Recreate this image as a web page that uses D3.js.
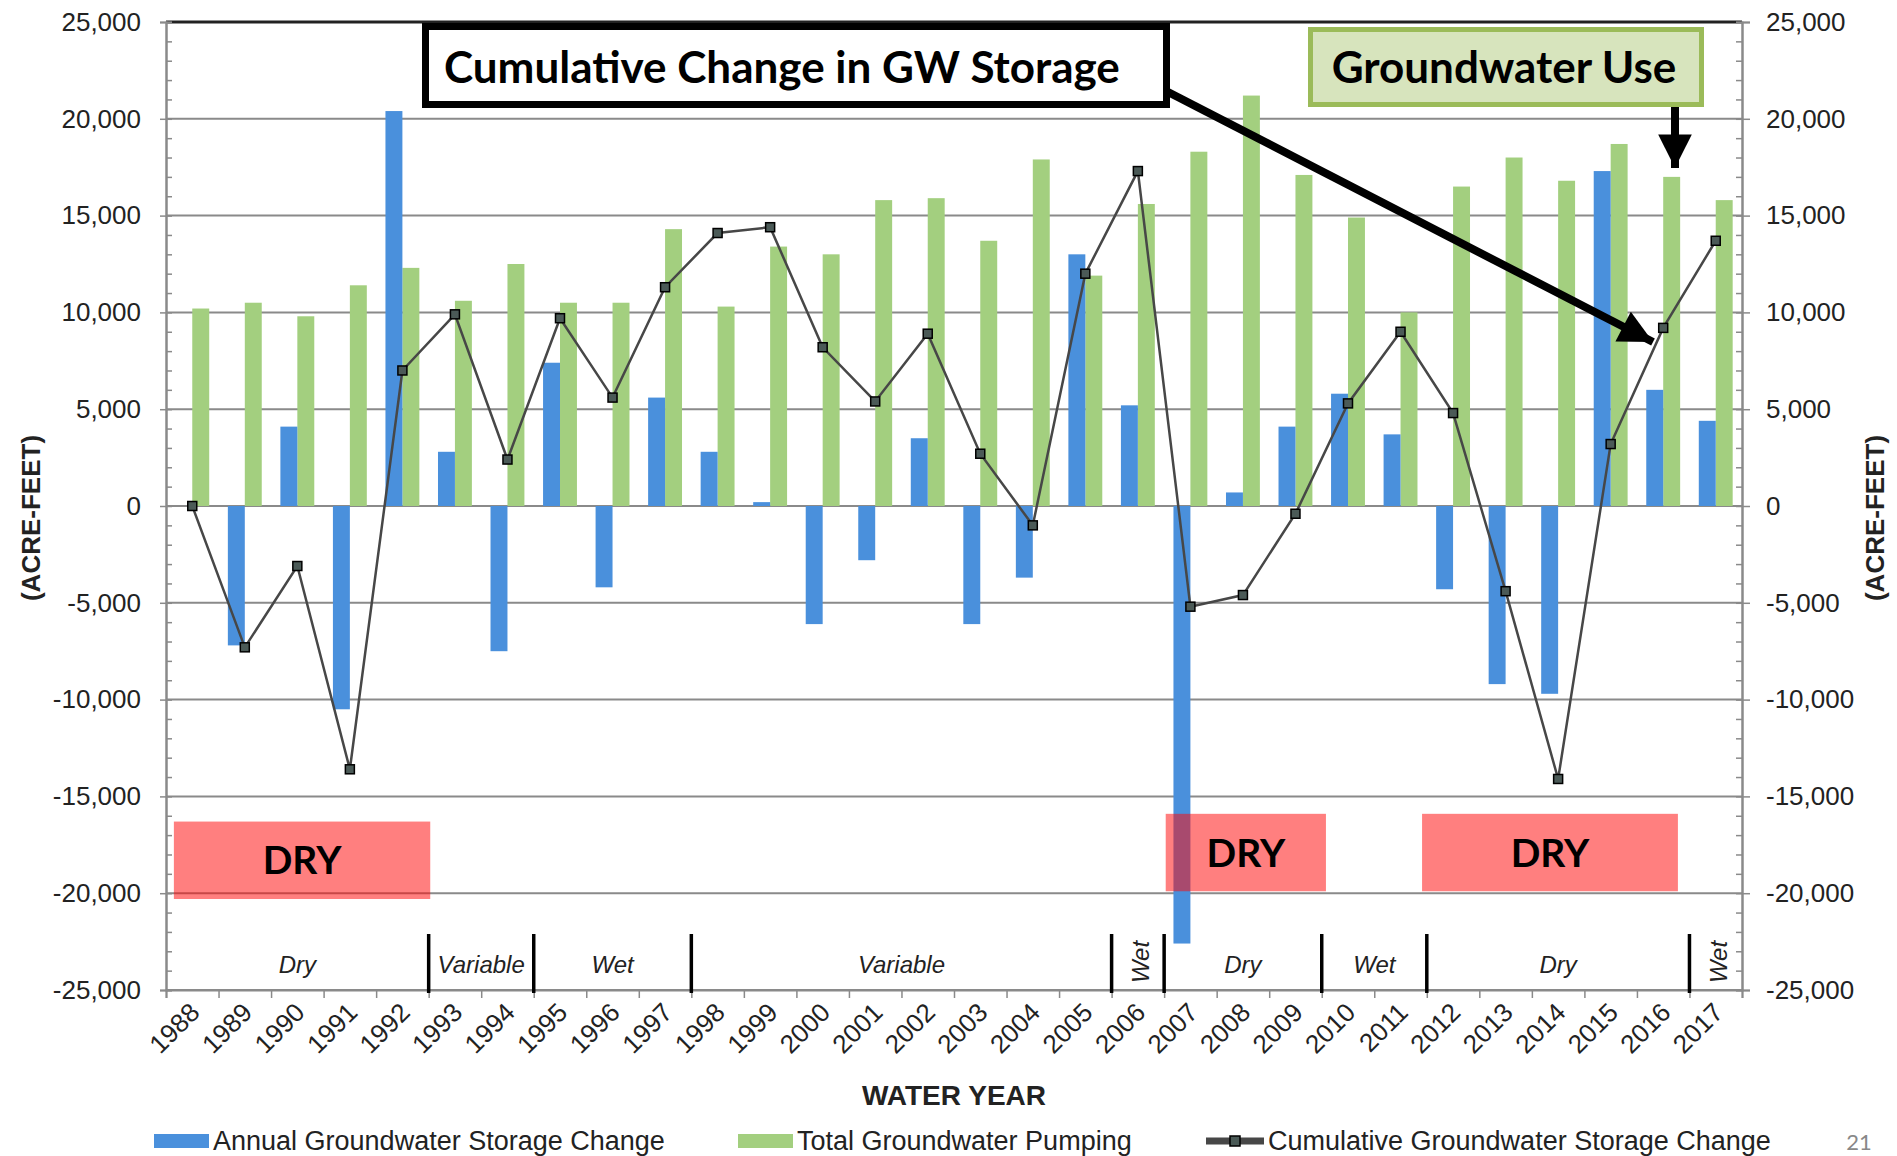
<!DOCTYPE html>
<html>
<head>
<meta charset="utf-8">
<script src="https://cdn.jsdelivr.net/npm/d3@7"></script>
<style>
	body { margin: 0; background: #fff; }
	svg { display: block; font-family: "Liberation Sans", Arial, sans-serif; }
</style>
</head>
<body>
<div id="chart"></div>
<script>
// water years on the x axis
var years = [1988, 1989, 1990, 1991, 1992, 1993, 1994, 1995, 1996, 1997,
	1998, 1999, 2000, 2001, 2002, 2003, 2004, 2005, 2006, 2007,
	2008, 2009, 2010, 2011, 2012, 2013, 2014, 2015, 2016, 2017];

// acre-feet
var annualChange = [0, -7200, 4100, -10500, 20400, 2800, -7500, 7400, -4200, 5600,
	2800, 200, -6100, -2800, 3500, -6100, -3700, 13000, 5200, -22600,
	700, 4100, 5800, 3700, -4300, -9200, -9700, 17300, 6000, 4400];

var totalPumping = [10200, 10500, 9800, 11400, 12300, 10600, 12500, 10500, 10500, 14300,
	10300, 13400, 13000, 15800, 15900, 13700, 17900, 11900, 15600, 18300,
	21200, 17100, 14900, 10000, 16500, 18000, 16800, 18700, 17000, 15800];

var cumulativeChange = [0, -7300, -3100, -13600, 7000, 9900, 2400, 9700, 5600, 11300,
	14100, 14400, 8200, 5400, 8900, 2700, -1000, 12000, 17300, -5200,
	-4600, -400, 5300, 9000, 4800, -4400, -14100, 3200, 9200, 13700];

var yTicks = [-25000, -20000, -15000, -10000, -5000, 0, 5000, 10000, 15000, 20000, 25000];
var yMinorTicks = d3.range(-25000, 25001, 1000);

// hydrologic periods along the bottom of the plot
var periodLabels = ["Dry", "Variable", "Wet", "Variable", "Wet", "Dry", "Wet", "Dry", "Wet"];
var periodStarts = [1988, 1993, 1995, 1998, 2006, 2007, 2010, 2012, 2017];

// red DRY highlight boxes (in water-year / acre-feet units)
var dryFrom = [1987.65, 2006.53, 2011.41];
var dryTo = [1992.53, 2009.58, 2016.28];
var dryTop = [-16300, -15900, -15900];
var dryBottom = [-20300, -19900, -19900];

var legendLabels = ["Annual Groundwater Storage Change", "Total Groundwater Pumping", "Cumulative Groundwater Storage Change"];

var colors = {annual: "#4a90dc", pumping: "#a3cf7f", line: "#474747", grid: "#8a8a8a"};

var width = 1897, height = 1156;
var plot = {left: 166, right: 1742, top: 22, bottom: 990};

var svg = d3.select("#chart").append("svg")
	.attr("width", width)
	.attr("height", height);

var x = d3.scaleBand().domain(years).range([plot.left, plot.right]);
var xYear = d3.scaleLinear().domain([years[0] - 0.5, years[years.length - 1] + 0.5]).range([plot.left, plot.right]);
var xSeries = d3.scaleBand().domain(["annual", "pumping"]).range([0, x.bandwidth()]).paddingOuter(0.55);
var y = d3.scaleLinear().domain([-25000, 25000]).range([plot.bottom, plot.top]);

var fmt = d => d3.format(",")(d).replace("\u2212", "-");

// grid lines
svg.append("g").selectAll("line")
	.data(yTicks)
	.enter()
	.append("line")
	.attr("x1", plot.left).attr("x2", plot.right)
	.attr("y1", d => y(d)).attr("y2", d => y(d))
	.attr("stroke", d => d === 25000 ? "#222" : colors.grid)
	.attr("stroke-width", d => d === 25000 ? 3 : 2);

// left axis
var leftMinor = svg.append("g")
	.attr("transform", `translate(${plot.left},0)`)
	.call(d3.axisRight(y).tickValues(yMinorTicks).tickSize(6).tickFormat(""));
var leftAxis = svg.append("g")
	.attr("transform", `translate(${plot.left},0)`)
	.call(d3.axisLeft(y).tickValues(yTicks).tickSize(6).tickPadding(19).tickFormat(fmt));

// right axis
var rightMinor = svg.append("g")
	.attr("transform", `translate(${plot.right},0)`)
	.call(d3.axisLeft(y).tickValues(yMinorTicks).tickSize(6).tickFormat(""));
var rightAxis = svg.append("g")
	.attr("transform", `translate(${plot.right},0)`)
	.call(d3.axisRight(y).tickValues(yTicks).tickSize(8).tickPadding(16).tickFormat(fmt));

[leftMinor, leftAxis, rightMinor, rightAxis].forEach(function(g) {
	g.select(".domain").attr("stroke", colors.grid).attr("stroke-width", 2);
	g.selectAll(".tick line").attr("stroke", colors.grid).attr("stroke-width", 1.5);
	g.selectAll(".tick text")
		.attr("font-size", 26)
		.attr("fill", "#222")
		.attr("font-family", "Liberation Sans, Arial, sans-serif");
});

// bottom axis
var bottomAxis = svg.append("g")
	.attr("transform", `translate(0,${plot.bottom})`)
	.call(d3.axisBottom(xYear).tickValues(d3.range(years[0] - 0.5, years[years.length - 1] + 1, 1)).tickSize(8).tickFormat(""));
bottomAxis.select(".domain").attr("stroke", colors.grid).attr("stroke-width", 2);
bottomAxis.selectAll(".tick line").attr("stroke", colors.grid).attr("stroke-width", 1.5);

svg.append("g").selectAll("text")
	.data(years)
	.enter()
	.append("text")
	.attr("transform", d => `translate(${x(d) + x.bandwidth() / 2 + 9},${plot.bottom + 24}) rotate(-45)`)
	.attr("text-anchor", "end")
	.attr("font-size", 26)
	.attr("fill", "#222")
	.text(d => d);

svg.append("text")
	.attr("x", (plot.left + plot.right) / 2)
	.attr("y", 1105)
	.attr("text-anchor", "middle")
	.attr("font-size", 28)
	.attr("font-weight", "bold")
	.attr("fill", "#222")
	.text("WATER YEAR");

// y axis titles
[[31, "left"], [1875, "right"]].forEach(function(p) {
	svg.append("text")
		.attr("transform", `translate(${p[0]},${(plot.top + plot.bottom) / 2 + 12}) rotate(-90)`)
		.attr("text-anchor", "middle")
		.attr("dominant-baseline", "central")
		.attr("font-size", 26)
		.attr("font-weight", "bold")
		.attr("fill", "#222")
		.text("(ACRE-FEET)");
});

// bars
svg.append("g").selectAll("rect")
	.data(years.map((yr, i) => ({yr: yr, v: totalPumping[i]})))
	.enter()
	.append("rect")
	.attr("x", d => x(d.yr) + xSeries("pumping"))
	.attr("width", xSeries.bandwidth())
	.attr("y", d => y(Math.max(0, d.v)))
	.attr("height", d => Math.abs(y(d.v) - y(0)))
	.attr("fill", colors.pumping);

svg.append("g").selectAll("rect")
	.data(years.map((yr, i) => ({yr: yr, v: annualChange[i]})))
	.enter()
	.append("rect")
	.attr("x", d => x(d.yr) + xSeries("annual"))
	.attr("width", xSeries.bandwidth())
	.attr("y", d => y(Math.max(0, d.v)))
	.attr("height", d => Math.abs(y(d.v) - y(0)))
	.attr("fill", colors.annual);

// cumulative line
var cumData = years.map((yr, i) => ({yr: yr, v: cumulativeChange[i]}));
var line = d3.line()
	.x(d => x(d.yr) + x.bandwidth() / 2)
	.y(d => y(d.v));

svg.append("path")
	.datum(cumData)
	.attr("d", line)
	.attr("fill", "none")
	.attr("stroke", colors.line)
	.attr("stroke-width", 2.5);

svg.append("g").selectAll("rect")
	.data(cumData)
	.enter()
	.append("rect")
	.attr("x", d => x(d.yr) + x.bandwidth() / 2 - 4.5)
	.attr("y", d => y(d.v) - 4.5)
	.attr("width", 9)
	.attr("height", 9)
	.attr("fill", "#4b5a57")
	.attr("stroke", "#000")
	.attr("stroke-width", 1.5);

// hydrologic period separators and labels
var periods = periodLabels.map(function(label, i) {
	var start = periodStarts[i];
	var end = i < periodStarts.length - 1 ? periodStarts[i + 1] - 1 : years[years.length - 1];
	return {label: label, start: start, end: end};
});

svg.append("g").selectAll("line")
	.data(periods.slice(1))
	.enter()
	.append("line")
	.attr("x1", d => xYear(d.start - 0.5)).attr("x2", d => xYear(d.start - 0.5))
	.attr("y1", 934).attr("y2", plot.bottom + 3)
	.attr("stroke", "#000")
	.attr("stroke-width", 3.5);

svg.append("g").selectAll("text")
	.data(periods)
	.enter()
	.append("text")
	.attr("transform", function(d) {
		var cx = (xYear(d.start - 0.5) + xYear(d.end + 0.5)) / 2;
		return d.start === d.end ? `translate(${cx + 3},962) rotate(-90)` : `translate(${cx},973)`;
	})
	.attr("text-anchor", "middle")
	.attr("dominant-baseline", d => d.start === d.end ? "central" : "auto")
	.attr("font-size", 24)
	.attr("font-style", "italic")
	.attr("fill", "#222")
	.text(d => d.label);

// DRY boxes
var dryG = svg.append("g").selectAll("g")
	.data(dryFrom.map((f, i) => ({x0: f, x1: dryTo[i], y0: dryTop[i], y1: dryBottom[i]})))
	.enter()
	.append("g");

dryG.append("rect")
	.attr("x", d => xYear(d.x0))
	.attr("y", d => y(d.y0))
	.attr("width", d => xYear(d.x1) - xYear(d.x0))
	.attr("height", d => y(d.y1) - y(d.y0))
	.attr("fill", "#ff0a0a")
	.attr("fill-opacity", 0.52);

dryG.append("text")
	.attr("x", d => (xYear(d.x0) + xYear(d.x1)) / 2)
	.attr("y", d => (y(d.y0) + y(d.y1)) / 2 + 14)
	.attr("text-anchor", "middle")
	.attr("font-family", "Lato, 'Open Sans', sans-serif")
	.attr("font-weight", "bold")
	.attr("font-size", 39)
	.attr("fill", "#000")
	.text("DRY");

// callouts
var defs = svg.append("defs");
defs.append("marker")
	.attr("id", "head")
	.attr("viewBox", "0 0 10 10")
	.attr("refX", 10).attr("refY", 5)
	.attr("markerWidth", 4.6).attr("markerHeight", 4.2)
	.attr("markerUnits", "strokeWidth")
	.attr("orient", "auto")
	.append("path")
	.attr("d", "M0,0 L10,5 L0,10 Z")
	.attr("fill", "#000");

svg.append("line")
	.attr("x1", 1168).attr("y1", 92)
	.attr("x2", 1653).attr("y2", 342)
	.attr("stroke", "#000")
	.attr("stroke-width", 8)
	.attr("marker-end", "url(#head)");

svg.append("line")
	.attr("x1", 1675).attr("y1", 105)
	.attr("x2", 1675).attr("y2", 168)
	.attr("stroke", "#000")
	.attr("stroke-width", 8)
	.attr("marker-end", "url(#head)");

svg.append("rect")
	.attr("x", 425.5).attr("y", 26.5)
	.attr("width", 741).attr("height", 78)
	.attr("fill", "#fff")
	.attr("stroke", "#000")
	.attr("stroke-width", 7);

svg.append("text")
	.attr("x", 444).attr("y", 83)
	.attr("font-family", "Lato, 'Open Sans', sans-serif")
	.attr("font-weight", "bold")
	.attr("font-size", 44)
	.attr("fill", "#000")
	.text("Cumulative Change in GW Storage");

svg.append("rect")
	.attr("x", 1310.5).attr("y", 29.5)
	.attr("width", 391).attr("height", 75)
	.attr("fill", "#d7e4bd")
	.attr("stroke", "#9bbb59")
	.attr("stroke-width", 5);

svg.append("text")
	.attr("x", 1504).attr("y", 83)
	.attr("text-anchor", "middle")
	.attr("font-family", "Lato, 'Open Sans', sans-serif")
	.attr("font-weight", "bold")
	.attr("font-size", 44)
	.attr("fill", "#000")
	.text("Groundwater Use");

// legend
var legendX = [154, 738, 1206];
var legend = svg.append("g").selectAll("g")
	.data(legendLabels)
	.enter()
	.append("g")
	.attr("transform", (d, i) => `translate(${legendX[i]},1141)`);

legend.filter((d, i) => i < 2).append("rect")
	.attr("x", 0).attr("y", -7)
	.attr("width", 55).attr("height", 14)
	.attr("fill", (d, i) => i === 0 ? colors.annual : colors.pumping);

legend.filter((d, i) => i === 2).append("line")
	.attr("x1", 0).attr("x2", 58)
	.attr("stroke", colors.line)
	.attr("stroke-width", 7);
legend.filter((d, i) => i === 2).append("rect")
	.attr("x", 24).attr("y", -5)
	.attr("width", 10).attr("height", 10)
	.attr("fill", "#4b5a57")
	.attr("stroke", "#000")
	.attr("stroke-width", 1.5);

legend.append("text")
	.attr("x", (d, i) => i === 2 ? 62 : 59)
	.attr("y", 9)
	.attr("font-size", 27)
	.attr("fill", "#222")
	.text(d => d);

svg.append("text")
	.attr("x", 1859).attr("y", 1150)
	.attr("text-anchor", "middle")
	.attr("font-family", "Lato, 'Open Sans', sans-serif")
	.attr("font-size", 22)
	.attr("fill", "#888")
	.text("21");
</script>
</body>
</html>
